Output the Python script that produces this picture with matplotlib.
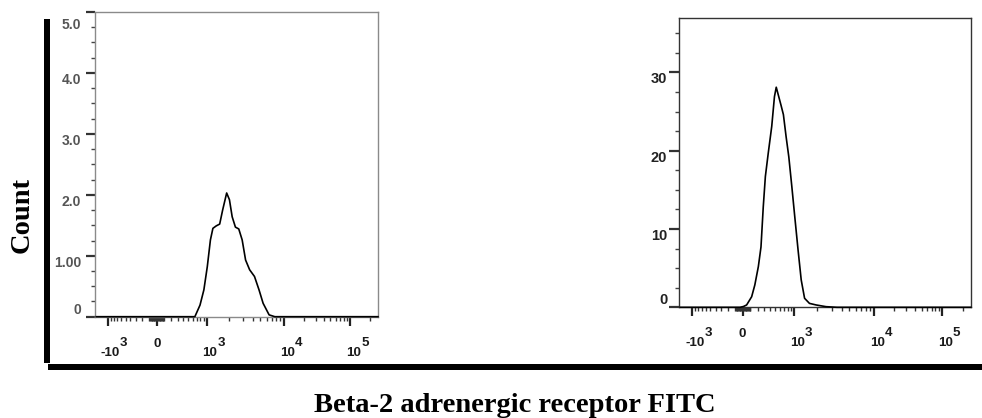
"""Two flow cytometry histograms (Beta-2 adrenergic receptor FITC) on a biexponential axis."""
import matplotlib
matplotlib.use("Agg")
import numpy as np
import matplotlib.pyplot as plt
from matplotlib.patches import Rectangle
from matplotlib.transforms import ScaledTranslation, blended_transform_factory, offset_copy

# ---- data ----
left_x = [-1500, 650, 790, 910, 1025, 1130, 1220, 1350, 1500, 1640, 1850, 2010,
          2180, 2400, 2650, 2930, 3240, 3650, 4210, 4810, 5420, 6460, 7640, 262144]
left_y = [0, 0, 0.19, 0.44, 0.82, 1.26, 1.45, 1.49, 1.52, 1.75, 2.03, 1.92,
          1.64, 1.47, 1.44, 1.26, 0.93, 0.77, 0.66, 0.44, 0.22, 0.03, 0, 0]

right_x = [-1500, -34, 11, 52, 118, 161, 211, 250, 285, 319, 368, 431, 484, 521,
           566, 628, 687, 758, 836, 930, 1025, 1134, 1245, 1376, 1588, 1926,
           2563, 3500, 262144]
right_y = [0, 0, 0.1, 0.3, 1.35, 2.85, 5.2, 7.7, 12.8, 16.7, 19.7, 23.1, 26.9, 28.1,
           27.1, 25.8, 24.6, 21.8, 19.2, 15.4, 11.6, 7.3, 3.5, 1.15, 0.5, 0.3,
           0.08, 0, 0]

x_major = [-1000, 0, 1000, 10000, 100000]
x_base = ["-10", "0", "10", "10", "10"]
x_sup = ["3", "", "3", "4", "5"]
left_yticks = [0, 1, 2, 3, 4, 5]
left_ylabels = ["0", "1.00", "2.0", "3.0", "4.0", "5.0"]
right_yticks = [0, 10, 20, 30]
right_ylabels = ["0", "10", "20", "30"]

# ---- biexponential-like axis (asinh, pinned to the reference tick spots) ----
W = 400.0
KX = np.array([-1e3, 0, 1e3, 1e4, 1e5, 262144.0])
KF = np.array([0.045, 0.218, 0.394, 0.668, 0.902, 1.0])
KT = np.arcsinh(KX / W)
s0 = (KF[1] - KF[0]) / (KT[1] - KT[0])
s1 = (KF[-1] - KF[-2]) / (KT[-1] - KT[-2])
T_EXT = np.concatenate([[-40.0], KT, [40.0]])
F_EXT = np.concatenate([[KF[0] + s0 * (-40.0 - KT[0])], KF, [KF[-1] + s1 * (40.0 - KT[-1])]])


def fwd(x):
    return np.interp(np.arcsinh(np.asarray(x, dtype=float) / W), T_EXT, F_EXT)


def inv(f):
    return W * np.sinh(np.interp(np.asarray(f, dtype=float), F_EXT, T_EXT))


x_min = float(inv(0.0))
x_max = 262144.0

x_minor = ([-s * 10 for s in range(1, 10)] + [s * 10 for s in range(1, 10)]
           + [-s * 100 for s in range(1, 10)] + [s * 100 for s in range(1, 10)]
           + [s * 1000 for s in range(2, 10)] + [s * 10000 for s in range(2, 10)]
           + [200000])

fig = plt.figure(figsize=(9.82, 4.18), dpi=100)
axL = fig.add_axes([95 / 982, 1 - 316.7 / 418, 283 / 982, 304.7 / 418])
axR = fig.add_axes([679 / 982, 1 - 307.3 / 418, 291.7 / 982, 289 / 418])

LBL = dict(family="Liberation Sans", fontweight="bold", color="#1a1a1a", fontsize=9.6)


def style(ax, spine_col, lab_col, ypad, ylen, ysize):
    ax.set_xscale("function", functions=(fwd, inv))
    ax.set_xlim(x_min, x_max)
    ax.set_xticks(x_major)
    ax.set_xticklabels([""] * len(x_major))
    ax.set_xticks(x_minor, minor=True)
    for s in ax.spines.values():
        s.set_color(spine_col)
        s.set_linewidth(1.0)
    ax.tick_params(axis="x", which="major", length=6.5, width=1.6, color="#222222")
    ax.tick_params(axis="x", which="minor", length=3, width=1.0, color="#333333")
    ax.tick_params(axis="y", which="major", length=ylen, width=1.6, color="#333333",
                   pad=ypad, labelsize=ysize, labelcolor=lab_col)
    ax.tick_params(axis="y", which="minor", length=3, width=1.0, color="#444444")
    for lab in ax.get_yticklabels():
        lab.set_fontfamily("Liberation Sans")
        lab.set_fontweight("bold")
        lab.set_va("top")
    ax.get_yticklabels()[0].set_va("bottom")

    # x tick labels: base "10" with a full-size raised exponent, as in FlowJo
    tr = blended_transform_factory(ax.transData, ax.transAxes)
    for xv, base, sup in zip(x_major, x_base, x_sup):
        if not sup:
            ax.text(xv, 0, base, ha="center", va="top", clip_on=False,
                    transform=offset_copy(tr, fig=fig, x=0, y=-21, units="dots"), **LBL)
            continue
        dx = -7 if base.startswith("-") else -4
        t = ax.text(xv, 0, base, ha="left", va="baseline", clip_on=False,
                    transform=offset_copy(tr, fig=fig, x=dx, y=-39, units="dots"), **LBL)
        ax.annotate(sup, xy=(1, 0), xycoords=t, xytext=(0, 10), textcoords="offset pixels",
                    ha="left", va="bottom", annotation_clip=False, **LBL)


axL.plot(left_x, left_y, color="black", lw=1.2, zorder=3, clip_on=False)
axL.set_ylim(0, 5)
axL.set_yticks(left_yticks)
axL.set_yticklabels(left_ylabels)
axL.set_yticks(np.arange(0, 5.01, 0.25), minor=True)
style(axL, "#8a8a8a", "#555555", 3.5, 6.5, 10)
top = axL.get_yticklabels()[-1]
top.set_transform(top.get_transform() + ScaledTranslation(0, -0.06, fig.dpi_scale_trans))

axR.plot(right_x, right_y, color="black", lw=1.2, zorder=3, clip_on=False)
axR.set_ylim(0, 36.9)
axR.set_yticks(right_yticks)
axR.set_yticklabels(right_ylabels)
axR.set_yticks(np.arange(0, 36.9, 2.5), minor=True)
style(axR, "#333333", "#222222", 1.5, 7, 10.5)

# black L-shaped frame
fig.add_artist(Rectangle((44 / 982, 1 - 363 / 418), 6 / 982, 344 / 418,
                         transform=fig.transFigure, color="black", lw=0))
fig.add_artist(Rectangle((48 / 982, 1 - 370 / 418), 934 / 982, 6 / 418,
                         transform=fig.transFigure, color="black", lw=0))

fig.text(22 / 982, 1 - 215 / 418, "Count", rotation=90, ha="center", va="center",
         family="Liberation Serif", fontweight="bold", fontsize=20.5)
fig.text(515 / 982, 1 - 412 / 418, "Beta-2 adrenergic receptor FITC", ha="center",
         va="baseline", family="Liberation Serif", fontweight="bold", fontsize=20.5)

fig.savefig("out.png", dpi=100, facecolor="white")
